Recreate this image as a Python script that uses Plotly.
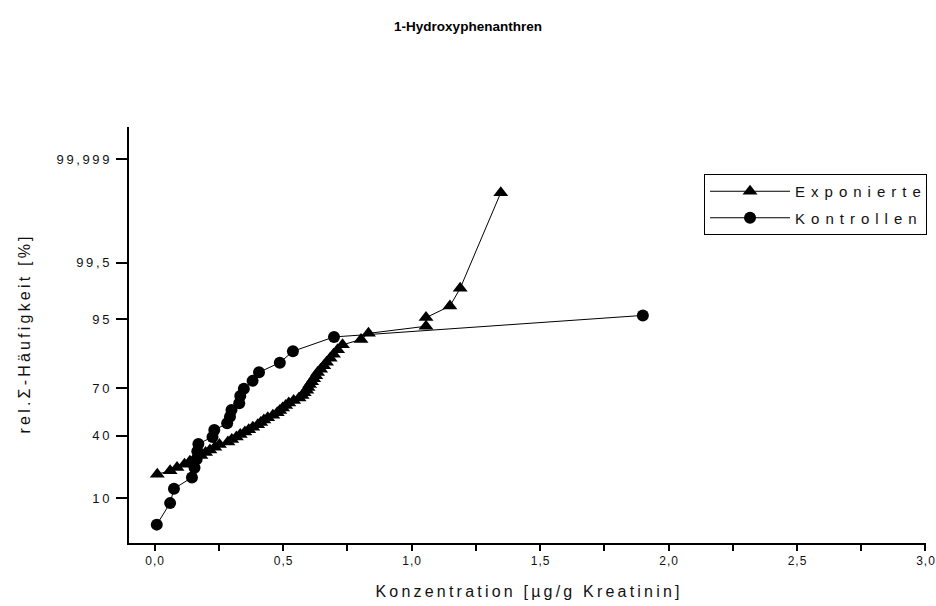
import plotly.graph_objects as go
from statistics import NormalDist

# Exponierte: concentration (µg/g Kreatinin) and cumulative frequency (%)
exp_conc = [0.01, 0.06, 0.087, 0.116, 0.137, 0.157, 0.18, 0.198, 0.215, 0.234,
            0.252, 0.285, 0.30, 0.318, 0.333, 0.351, 0.366, 0.382, 0.401, 0.413,
            0.425, 0.44, 0.46, 0.477, 0.487, 0.498, 0.51, 0.522, 0.541, 0.562,
            0.574, 0.582, 0.592, 0.597, 0.603, 0.611, 0.619, 0.627, 0.634, 0.646,
            0.658, 0.669, 0.683, 0.696, 0.712, 0.731, 0.803, 0.832, 1.056, 1.056,
            1.149, 1.189, 1.347]
exp_pct = [18.75, 20.31, 21.88, 23.44, 25.0, 26.56, 28.13, 29.69, 31.25, 32.81,
           34.38, 35.94, 37.5, 39.06, 40.63, 42.19, 43.75, 45.31, 46.88, 48.44,
           50.0, 51.56, 53.13, 54.69, 56.25, 57.81, 59.38, 60.94, 62.5, 64.06,
           65.63, 67.19, 68.75, 70.31, 71.88, 73.44, 75.0, 76.56, 78.13, 79.69,
           81.25, 82.81, 84.38, 85.94, 87.5, 89.06, 90.63, 92.19, 93.75, 95.31,
           96.88, 98.44, 99.99]

# Kontrollen
kon_conc = [0.008, 0.06, 0.075, 0.145, 0.155, 0.163, 0.166, 0.17, 0.225, 0.232,
            0.282, 0.293, 0.299, 0.329, 0.333, 0.347, 0.381, 0.406, 0.487, 0.538,
            0.698, 1.90]
kon_pct = [4.35, 8.7, 13.04, 17.39, 21.74, 26.09, 30.43, 34.78, 39.13, 43.48,
           47.83, 52.17, 56.52, 60.87, 65.22, 69.57, 73.91, 78.26, 82.61, 86.96,
           91.3, 95.65]

# probability-axis ticks
y_tick_pct = [10, 40, 70, 95, 99.5, 99.999]
y_tick_text = ["10", "40", "70", "95", "99,5", "99,999"]
x_tick_vals = [0.0, 0.5, 1.0, 1.5, 2.0, 2.5, 3.0]
x_tick_text = ["0,0", "0,5", "1,0", "1,5", "2,0", "2,5", "3,0"]

_nd = NormalDist()


def probit(p):
    return _nd.inv_cdf(p / 100.0)


def spaced(s, sep="\u2009"):
    return sep.join(s)


FONT = "Liberation Sans, Arial, Helvetica, sans-serif"
INK = "#111111"
WIDE = "\u2009\u2009"

fig = go.Figure()
fig.add_trace(go.Scatter(
    x=exp_conc, y=[probit(p) for p in exp_pct],
    mode="lines+markers", name=spaced("Exponierte", WIDE), legendgroup="e",
    line=dict(color="black", width=1),
    marker=dict(symbol="triangle-up", size=13, color="black"),
))
fig.add_trace(go.Scatter(
    x=kon_conc, y=[probit(p) for p in kon_pct],
    mode="lines+markers", name=spaced("Kontrollen", WIDE), legendgroup="k",
    line=dict(color="black", width=1),
    marker=dict(symbol="circle", size=12, color="black"),
))

fig.update_layout(
    width=936, height=606,
    margin=dict(l=129, r=10, t=127, b=63, autoexpand=False),
    paper_bgcolor="white", plot_bgcolor="white",
    font=dict(family=FONT, color=INK),
    title=dict(text="<b>1-Hydroxyphenanthren</b>", x=0.5, xanchor="center",
               y=1 - 26 / 606, yanchor="middle", yref="container",
               font=dict(size=13.5, color="black")),
    showlegend=True,
    legend=dict(x=0.7215, y=0.887, xanchor="left", yanchor="top",
                bordercolor="black", borderwidth=1, bgcolor="white",
                font=dict(size=15, color=INK), itemwidth=80,
                traceorder="grouped", tracegroupgap=4),
)

fig.update_xaxes(
    range=[-0.1, 3.002], showline=True, linecolor="black", linewidth=2,
    showgrid=False, zeroline=False, automargin=False,
    tickmode="array", tickvals=x_tick_vals,
    ticktext=[spaced(t, "\u200a") for t in x_tick_text],
    ticks="outside", ticklen=6, tickwidth=1.5, tickcolor="black",
    tickfont=dict(size=12, color=INK), ticklabeloverflow="allow",
    minor=dict(dtick=0.25, tick0=0, ticks="outside", ticklen=6,
               tickwidth=1.5, tickcolor="black", showgrid=False),
    title=dict(text=spaced("Konzentration [µg/g Kreatinin]"),
               font=dict(size=16, color=INK), standoff=18),
)

fig.update_yaxes(
    range=[-2.012, 4.794], showline=True, linecolor="black", linewidth=2,
    showgrid=False, zeroline=False, automargin=False,
    tickmode="array", tickvals=[probit(p) for p in y_tick_pct],
    ticktext=[spaced(t) for t in y_tick_text],
    ticks="outside", ticklen=11, tickwidth=2, tickcolor="black",
    tickfont=dict(size=13, color=INK), ticklabelstandoff=4,
    title=dict(text=spaced("rel.Σ-Häufigkeit [%]"),
               font=dict(size=16, color=INK), standoff=22),
)

fig.write_html("out.html")
